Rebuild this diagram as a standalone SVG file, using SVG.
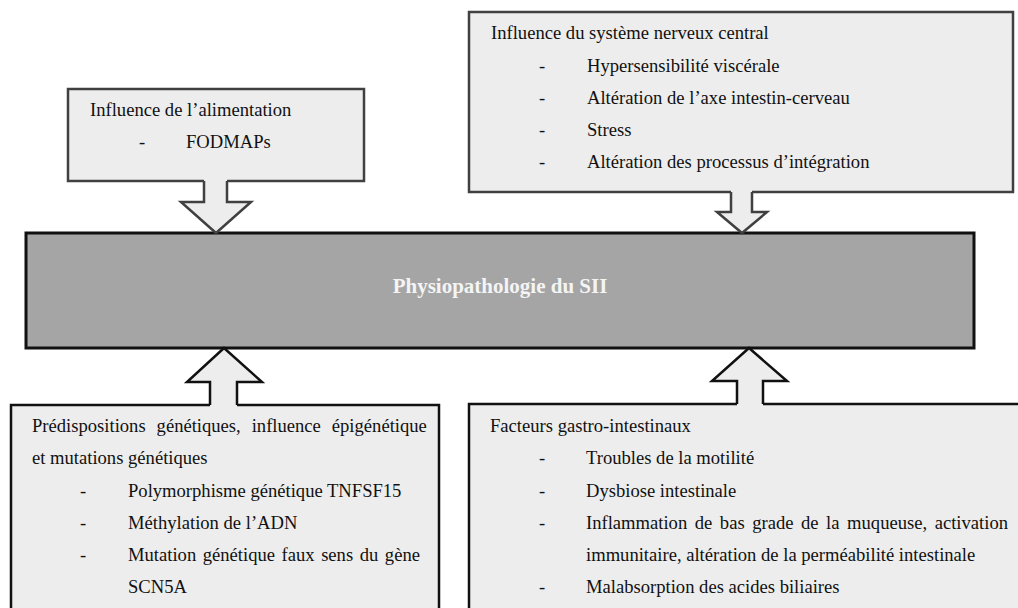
<svg xmlns="http://www.w3.org/2000/svg" width="1018" height="608" viewBox="0 0 1018 608">
<style>
  text { font-family: "Liberation Serif", "Times New Roman", serif; font-size: 18.6px; fill: #111; }
  .top { fill: #ededed; stroke: #404040; stroke-width: 2.5; }
  .bot { fill: #ededed; stroke: #111; stroke-width: 2.5; }
  .afill { fill: #ededed; stroke: none; }
  .atop { fill: none; stroke: #404040; stroke-width: 2.5; stroke-linejoin: miter; }
  .abot { fill: none; stroke: #111; stroke-width: 2.5; stroke-linejoin: miter; }
  .center { fill: #a5a5a5; stroke: #111; stroke-width: 3; }
  .ctitle { font-size: 21px; font-weight: bold; fill: #f4f4f4; }
</style>
<rect width="1018" height="608" fill="#ffffff"/>

<g id="central">
  <rect class="center" x="26" y="233" width="948" height="115"/>
  <text class="ctitle" x="500" y="293" text-anchor="middle">Physiopathologie du SII</text>
</g>

<g id="alimentation">
  <rect class="top" x="68" y="89" width="296" height="92"/>
  <text x="90" y="116">Influence de l’alimentation</text>
  <text x="139" y="148">-</text>
  <text x="186" y="148">FODMAPs</text>
</g>

<g id="snc">
  <rect class="top" x="469" y="12" width="544" height="180"/>
  <text x="491" y="39">Influence du système nerveux central</text>
  <text x="539" y="72">-</text><text x="587" y="72">Hypersensibilité viscérale</text>
  <text x="539" y="104">-</text><text x="587" y="104">Altération de l’axe intestin-cerveau</text>
  <text x="539" y="136">-</text><text x="587" y="136">Stress</text>
  <text x="539" y="168">-</text><text x="587" y="168">Altération des processus d’intégration</text>
</g>

<g id="genetique">
  <rect class="bot" x="11" y="405" width="428" height="215"/>
  <text x="32" y="432" word-spacing="6.3">Prédispositions génétiques, influence épigénétique</text>
  <text x="32" y="464">et mutations génétiques</text>
  <text x="80" y="497">-</text><text x="128" y="497">Polymorphisme génétique TNFSF15</text>
  <text x="80" y="529">-</text><text x="128" y="529">Méthylation de l’ADN</text>
  <text x="80" y="561">-</text><text x="128" y="561" word-spacing="1.9">Mutation génétique faux sens du gène</text>
  <text x="128" y="593">SCN5A</text>
</g>

<g id="gastro">
  <rect class="bot" x="469" y="404" width="560" height="216"/>
  <text x="490" y="432">Facteurs gastro-intestinaux</text>
  <text x="539" y="464">-</text><text x="586" y="464">Troubles de la motilité</text>
  <text x="539" y="497">-</text><text x="586" y="497">Dysbiose intestinale</text>
  <text x="539" y="529">-</text><text x="586" y="529" word-spacing="2.9">Inflammation de bas grade de la muqueuse, activation</text>
  <text x="586" y="561">immunitaire, altération de la perméabilité intestinale</text>
  <text x="539" y="593">-</text><text x="586" y="593">Malabsorption des acides biliaires</text>
</g>

<g id="connectors">
  <!-- top-left arrow -->
  <polygon class="afill" points="204,178 227,178 227,202 251,202 216,233 181,202 204,202"/>
  <polyline class="atop" points="204,181 204,202 181,202 216,233 251,202 227,202 227,181"/>
  <!-- top-right arrow -->
  <polygon class="afill" points="731,189 752,189 752,212 767,212 742,233 717,212 731,212"/>
  <polyline class="atop" points="731,192 731,212 717,212 742,233 767,212 752,212 752,192"/>
  <!-- bottom-left arrow -->
  <polygon class="afill" points="210,408 237,408 237,382 262,382 224,348 187,382 210,382"/>
  <polyline class="abot" points="210,405 210,382 187,382 224,348 262,382 237,382 237,405"/>
  <!-- bottom-right arrow -->
  <polygon class="afill" points="737,407 763,407 763,381 787,381 749,348 712,381 737,381"/>
  <polyline class="abot" points="737,404 737,381 712,381 749,348 787,381 763,381 763,404"/>
</g>
</svg>
